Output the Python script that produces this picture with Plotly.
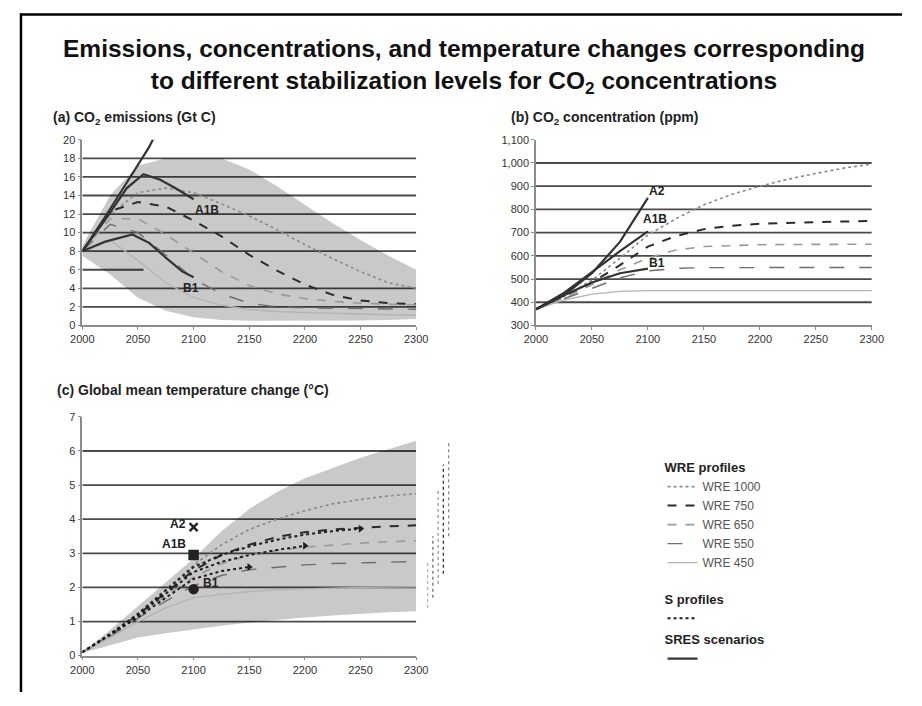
import plotly.graph_objects as go

# page is 922x706; the browser body keeps an 8px margin, so the figure is 906x690
PAGE_OFF = 8
W, H = 906, 690

# ---------------- data ----------------
x_ticks = [2000, 2050, 2100, 2150, 2200, 2250, 2300]

# (a) CO2 emissions (Gt C)
em_ticks = [0, 2, 4, 6, 8, 10, 12, 14, 16, 18, 20]
em_band_years = [2000, 2025, 2050, 2075, 2100, 2125, 2150, 2175, 2200, 2225, 2250, 2275, 2300]
em_band_hi = [8.6, 14.0, 17.2, 18.0, 18.0, 18.0, 16.8, 15.0, 13.0, 11.0, 9.2, 7.5, 6.0]
em_band_lo = [7.5, 5.5, 3.0, 1.6, 0.9, 0.6, 0.5, 0.5, 0.5, 0.5, 0.55, 0.6, 0.7]

em_a2_years = [2000, 2020, 2040, 2060, 2080, 2100]
em_a2 = [8.0, 11.6, 15.4, 19.2, 24.0, 29.0]
em_a1b_years = [2000, 2020, 2040, 2055, 2070, 2085, 2100]
em_a1b = [8.0, 11.3, 14.8, 16.3, 15.7, 14.7, 13.6]
em_b1_years = [2000, 2020, 2045, 2060, 2075, 2090, 2100]
em_b1 = [8.0, 9.0, 9.8, 8.9, 7.3, 5.8, 5.2]

wre_years = [2000, 2025, 2050, 2075, 2100, 2125, 2150, 2175, 2200, 2225, 2250, 2275, 2300]
em_wre1000 = [8.0, 12.0, 14.3, 14.8, 14.3, 13.1, 11.8, 10.3, 8.7, 7.2, 5.8, 4.6, 4.0]
em_wre750 = [8.0, 12.3, 13.3, 12.8, 11.3, 9.6, 7.6, 5.9, 4.4, 3.3, 2.7, 2.4, 2.3]
em_wre650 = [8.0, 11.5, 11.5, 9.8, 7.8, 5.8, 4.3, 3.4, 2.9, 2.6, 2.4, 2.3, 2.2]
em_wre550 = [8.0, 10.9, 10.0, 7.6, 5.0, 3.4, 2.4, 2.0, 1.9, 1.85, 1.8, 1.78, 1.75]
em_wre450 = [8.0, 9.2, 7.0, 4.6, 3.0, 2.2, 1.7, 1.5, 1.4, 1.3, 1.2, 1.15, 1.1]

# (b) CO2 concentration (ppm)
conc_ticks = [300, 400, 500, 600, 700, 800, 900, 1000, 1100]
conc_sres_years = [2000, 2025, 2050, 2075, 2100]
conc_a2 = [370, 430, 525, 660, 850]
conc_a1b = [370, 440, 530, 620, 705]
conc_b1 = [370, 430, 485, 525, 545]
conc_wre1000 = [370, 425, 495, 590, 690, 760, 820, 865, 900, 930, 955, 978, 995]
conc_wre750 = [370, 422, 485, 560, 640, 685, 715, 730, 738, 742, 745, 748, 750]
conc_wre650 = [370, 420, 475, 540, 590, 625, 640, 645, 648, 649, 650, 650, 650]
conc_wre550 = [370, 415, 460, 505, 535, 546, 549, 550, 550, 550, 550, 550, 550]
conc_wre450 = [370, 410, 435, 447, 450, 450, 450, 450, 450, 450, 450, 450, 450]

# (c) Global mean temperature change (deg C)
temp_ticks = [0, 1, 2, 3, 4, 5, 6, 7]
temp_band_hi = [0.1, 0.75, 1.45, 2.15, 2.85, 3.65, 4.3, 4.8, 5.2, 5.5, 5.8, 6.05, 6.3]
temp_band_lo = [0.08, 0.3, 0.53, 0.66, 0.78, 0.88, 0.97, 1.05, 1.12, 1.18, 1.23, 1.27, 1.3]
temp_wre1000 = [0.1, 0.6, 1.25, 1.95, 2.65, 3.25, 3.7, 4.0, 4.25, 4.45, 4.58, 4.68, 4.75]
temp_wre750 = [0.1, 0.58, 1.2, 1.85, 2.5, 2.95, 3.25, 3.48, 3.62, 3.7, 3.75, 3.79, 3.82]
temp_wre650 = [0.1, 0.56, 1.15, 1.75, 2.3, 2.7, 2.95, 3.08, 3.18, 3.25, 3.3, 3.34, 3.37]
temp_wre550 = [0.1, 0.55, 1.1, 1.6, 2.05, 2.35, 2.52, 2.6, 2.66, 2.7, 2.72, 2.74, 2.76]
temp_wre450 = [0.1, 0.53, 1.0, 1.4, 1.7, 1.8, 1.88, 1.93, 1.96, 1.98, 2.0, 2.01, 2.02]

s550_years = [2000, 2025, 2050, 2075, 2100, 2125, 2150]
s550 = [0.1, 0.6, 1.12, 1.7, 2.25, 2.48, 2.6]
s650_years = [2000, 2025, 2050, 2075, 2100, 2125, 2150, 2175, 2200]
s650 = [0.1, 0.62, 1.18, 1.82, 2.45, 2.75, 2.95, 3.1, 3.22]
s750_years = [2000, 2025, 2050, 2075, 2100, 2125, 2150, 2175, 2200, 2225, 2250]
s750 = [0.1, 0.64, 1.22, 1.9, 2.6, 2.95, 3.2, 3.4, 3.55, 3.65, 3.72]

sres_temp_year = [2100]
temp_a2 = [3.77]
temp_a1b = [2.95]
temp_b1 = [1.95]

# equilibrium ranges (bars right of panel c), order WRE 450, 550, 650, 750, 1000
eq_names = ["WRE 450", "WRE 550", "WRE 650", "WRE 750", "WRE 1000"]
eq_low = [1.4, 1.7, 2.1, 2.4, 3.5]
eq_high = [2.8, 3.5, 4.9, 5.6, 6.3]

# ---------------- styles ----------------
FONT = "Liberation Sans, Arial, sans-serif"
WRE_STYLE = {
    "WRE 1000": dict(color="#8a8a8a", dash="dot", width=1.6),
    "WRE 750": dict(color="#2b2b2b", dash="dash", width=2.0),
    "WRE 650": dict(color="#9a9a9a", dash="dash", width=1.6),
    "WRE 550": dict(color="#6e6e6e", dash="longdash", width=1.4),
    "WRE 450": dict(color="#b4b4b4", dash="solid", width=1.4),
}
SRES_LINE = dict(color="#333333", width=2.2)
S_LINE = dict(color="#1e1e1e", dash="dot", width=2.0)
BAND = "rgba(0,0,0,0.21)"
GRID = "#4a4a4a"

fig = go.Figure()


def band(xs, lo, hi, xa, ya):
    fig.add_trace(go.Scatter(x=xs, y=lo, mode="lines", line=dict(width=0),
                             xaxis=xa, yaxis=ya, showlegend=False, hoverinfo="skip"))
    fig.add_trace(go.Scatter(x=xs, y=hi, mode="lines", line=dict(width=0), fill="tonexty",
                             fillcolor=BAND, xaxis=xa, yaxis=ya, showlegend=False, hoverinfo="skip"))


# panel a
band(em_band_years, em_band_lo, em_band_hi, "x", "y")
for name, ys in [("WRE 1000", em_wre1000), ("WRE 750", em_wre750), ("WRE 650", em_wre650),
                 ("WRE 550", em_wre550), ("WRE 450", em_wre450)]:
    fig.add_trace(go.Scatter(x=wre_years, y=ys, mode="lines", line=WRE_STYLE[name], name=name,
                             xaxis="x", yaxis="y", showlegend=False))
for xs, ys in [(em_a2_years, em_a2), (em_a1b_years, em_a1b), (em_b1_years, em_b1)]:
    fig.add_trace(go.Scatter(x=xs, y=ys, mode="lines", line=SRES_LINE, xaxis="x", yaxis="y",
                             showlegend=False))

# panel b (carries the WRE legend entries)
for name, ys in [("WRE 1000", conc_wre1000), ("WRE 750", conc_wre750), ("WRE 650", conc_wre650),
                 ("WRE 550", conc_wre550), ("WRE 450", conc_wre450)]:
    fig.add_trace(go.Scatter(x=wre_years, y=ys, mode="lines", line=WRE_STYLE[name], name=name,
                             xaxis="x2", yaxis="y2", showlegend=True, legend="legend"))
for xs, ys in [(conc_sres_years, conc_a2), (conc_sres_years, conc_a1b), (conc_sres_years, conc_b1)]:
    fig.add_trace(go.Scatter(x=xs, y=ys, mode="lines", line=SRES_LINE, xaxis="x2", yaxis="y2",
                             showlegend=False))

# panel c
band(wre_years, temp_band_lo, temp_band_hi, "x3", "y3")
for name, ys in [("WRE 1000", temp_wre1000), ("WRE 750", temp_wre750), ("WRE 650", temp_wre650),
                 ("WRE 550", temp_wre550), ("WRE 450", temp_wre450)]:
    fig.add_trace(go.Scatter(x=wre_years, y=ys, mode="lines", line=WRE_STYLE[name],
                             xaxis="x3", yaxis="y3", showlegend=False))
first = True
for xs, ys in [(s750_years, s750), (s650_years, s650), (s550_years, s550)]:
    fig.add_trace(go.Scatter(x=xs, y=ys, mode="lines", line=S_LINE, name=" ",
                             xaxis="x3", yaxis="y3", showlegend=first, legend="legend2"))
    fig.add_trace(go.Scatter(x=xs[-1:], y=ys[-1:], mode="markers",
                             marker=dict(symbol="triangle-right", size=7, color="#1e1e1e"),
                             xaxis="x3", yaxis="y3", showlegend=False))
    first = False

for ys, sym in [(temp_a2, "x-thin-open"), (temp_a1b, "square"), (temp_b1, "circle")]:
    fig.add_trace(go.Scatter(x=sres_temp_year, y=ys, mode="markers",
                             marker=dict(symbol=sym, size=8, color="#222",
                                         line=dict(width=2.5, color="#222")),
                             xaxis="x3", yaxis="y3", showlegend=False))

# SRES legend entry
fig.add_trace(go.Scatter(x=[None], y=[None], mode="lines", line=SRES_LINE, name=" ",
                         xaxis="x3", yaxis="y3", showlegend=True, legend="legend3"))

# equilibrium range bars
for i, name in enumerate(eq_names):
    st = WRE_STYLE[name]
    fig.add_trace(go.Scatter(x=[i, i], y=[eq_low[i], eq_high[i]], mode="lines",
                             line=dict(color=st["color"], dash="dot", width=1.3),
                             xaxis="x4", yaxis="y3", showlegend=False, hoverinfo="skip"))


# ---------------- layout ----------------
def px_x(p):  # page pixel -> paper fraction
    return (p - PAGE_OFF) / W


def px_y(p):
    return 1 - (p - PAGE_OFF) / H


axis_common = dict(showline=True, linecolor="#8c8c8c", linewidth=1.5, ticks="outside",
                   ticklen=3, tickcolor="#8c8c8c", showgrid=False, zeroline=False,
                   tickfont=dict(family=FONT, size=11, color="#333"))

dom_left = [px_x(72), px_x(415)]
dom_right = [px_x(538), px_x(883)]
dom_top = [px_y(325), px_y(136)]
dom_bot = [px_y(661), px_y(418)]

leg_common = dict(xanchor="left", yanchor="top", bgcolor="rgba(0,0,0,0)", traceorder="normal",
                  font=dict(family=FONT, size=12, color="#555"), itemwidth=30)
leg_title_font = dict(family=FONT, size=13, color="#222", weight="bold")

fig.update_layout(
    width=W, height=H, margin=dict(l=0, r=0, t=0, b=0),
    paper_bgcolor="white", plot_bgcolor="white",
    font=dict(family=FONT, color="#222"),
    xaxis=dict(domain=dom_left, range=[2000, 2300], tickvals=x_ticks, anchor="y", **axis_common),
    yaxis=dict(domain=dom_top, range=[0, 20], tickvals=em_ticks, anchor="x", **axis_common),
    xaxis2=dict(domain=dom_right, range=[2000, 2300], tickvals=x_ticks, anchor="y2", **axis_common),
    yaxis2=dict(domain=dom_top, range=[300, 1100], tickvals=conc_ticks, tickformat=",",
                anchor="x2", **axis_common),
    xaxis3=dict(domain=dom_left, range=[2000, 2300], tickvals=x_ticks, anchor="y3", **axis_common),
    yaxis3=dict(domain=dom_bot, range=[0, 7], tickvals=temp_ticks, anchor="x3", **axis_common),
    xaxis4=dict(domain=[px_x(424), px_x(451)], range=[-0.5, 4.5], anchor="y3", visible=False),
    legend=dict(x=px_x(668), y=px_y(457), title=dict(text="WRE profiles", font=leg_title_font),
                **leg_common),
    legend2=dict(x=px_x(668), y=px_y(591), title=dict(text="S profiles", font=leg_title_font),
                 **leg_common),
    legend3=dict(x=px_x(668), y=px_y(632), title=dict(text="SRES scenarios", font=leg_title_font),
                 **leg_common),
)

# gridlines (drawn below traces, band is translucent so they show through)
shapes = []
for v in em_ticks[1:-1]:
    x_end = 2055 if v == 6 else 2300
    shapes.append(dict(type="line", xref="x", yref="y", x0=2000, x1=x_end, y0=v, y1=v,
                       line=dict(color=GRID, width=1.8), layer="below"))
for v in conc_ticks[1:-1]:
    shapes.append(dict(type="line", xref="x2", yref="y2", x0=2000, x1=2300, y0=v, y1=v,
                       line=dict(color=GRID, width=1.8), layer="below"))
for v in temp_ticks[1:-1]:
    shapes.append(dict(type="line", xref="x3", yref="y3", x0=2000, x1=2300, y0=v, y1=v,
                       line=dict(color=GRID, width=1.8), layer="below"))
# frame (top and left edges)
shapes.append(dict(type="line", xref="paper", yref="paper", x0=0, x1=1, y0=px_y(8.5), y1=px_y(8.5),
                   line=dict(color="black", width=2.5)))
shapes.append(dict(type="line", xref="paper", yref="paper", x0=px_x(9), x1=px_x(9), y0=0, y1=px_y(7.5),
                   line=dict(color="black", width=2.5)))
fig.update_layout(shapes=shapes)

ann = []
title_font = dict(family=FONT, size=24.5, color="#111", weight="bold")
ann.append(dict(text="Emissions, concentrations, and temperature changes corresponding<br>"
                     "to different stabilization levels for CO<sub>2</sub> concentrations",
                x=px_x(464), y=px_y(61), xref="paper", yref="paper", showarrow=False,
                xanchor="center", yanchor="middle", align="center", font=title_font))
sub_font = dict(family=FONT, size=14, color="#222", weight="bold")
for txt, xp, yp in [("(a) CO<sub>2</sub> emissions (Gt C)", 40, 114),
                    ("(b) CO<sub>2</sub> concentration (ppm)", 510, 114),
                    ("(c) Global mean temperature change (°C)", 44, 391)]:
    ann.append(dict(text=txt, x=px_x(xp), y=px_y(yp), xref="paper", yref="paper", showarrow=False,
                    xanchor="left", yanchor="middle", font=sub_font))
lab_font = dict(family=FONT, size=12, color="#222", weight="bold")
for txt, xr, yr, xv, yv in [("A2", "x", "y", 2074, 20.4), ("A1B", "x", "y", 2112, 12.4),
                            ("B1", "x", "y", 2098, 4.0),
                            ("A2", "x2", "y2", 2108, 878), ("A1B", "x2", "y2", 2106, 760),
                            ("B1", "x2", "y2", 2108, 568),
                            ("A2", "x3", "y3", 2086, 3.85), ("A1B", "x3", "y3", 2082, 3.28),
                            ("B1", "x3", "y3", 2116, 2.13)]:
    ann.append(dict(text=txt, x=xv, y=yv, xref=xr, yref=yr, showarrow=False,
                    xanchor="center", yanchor="middle", font=lab_font))
fig.update_layout(annotations=ann)

fig.write_html("out.html", config={"displayModeBar": False})
